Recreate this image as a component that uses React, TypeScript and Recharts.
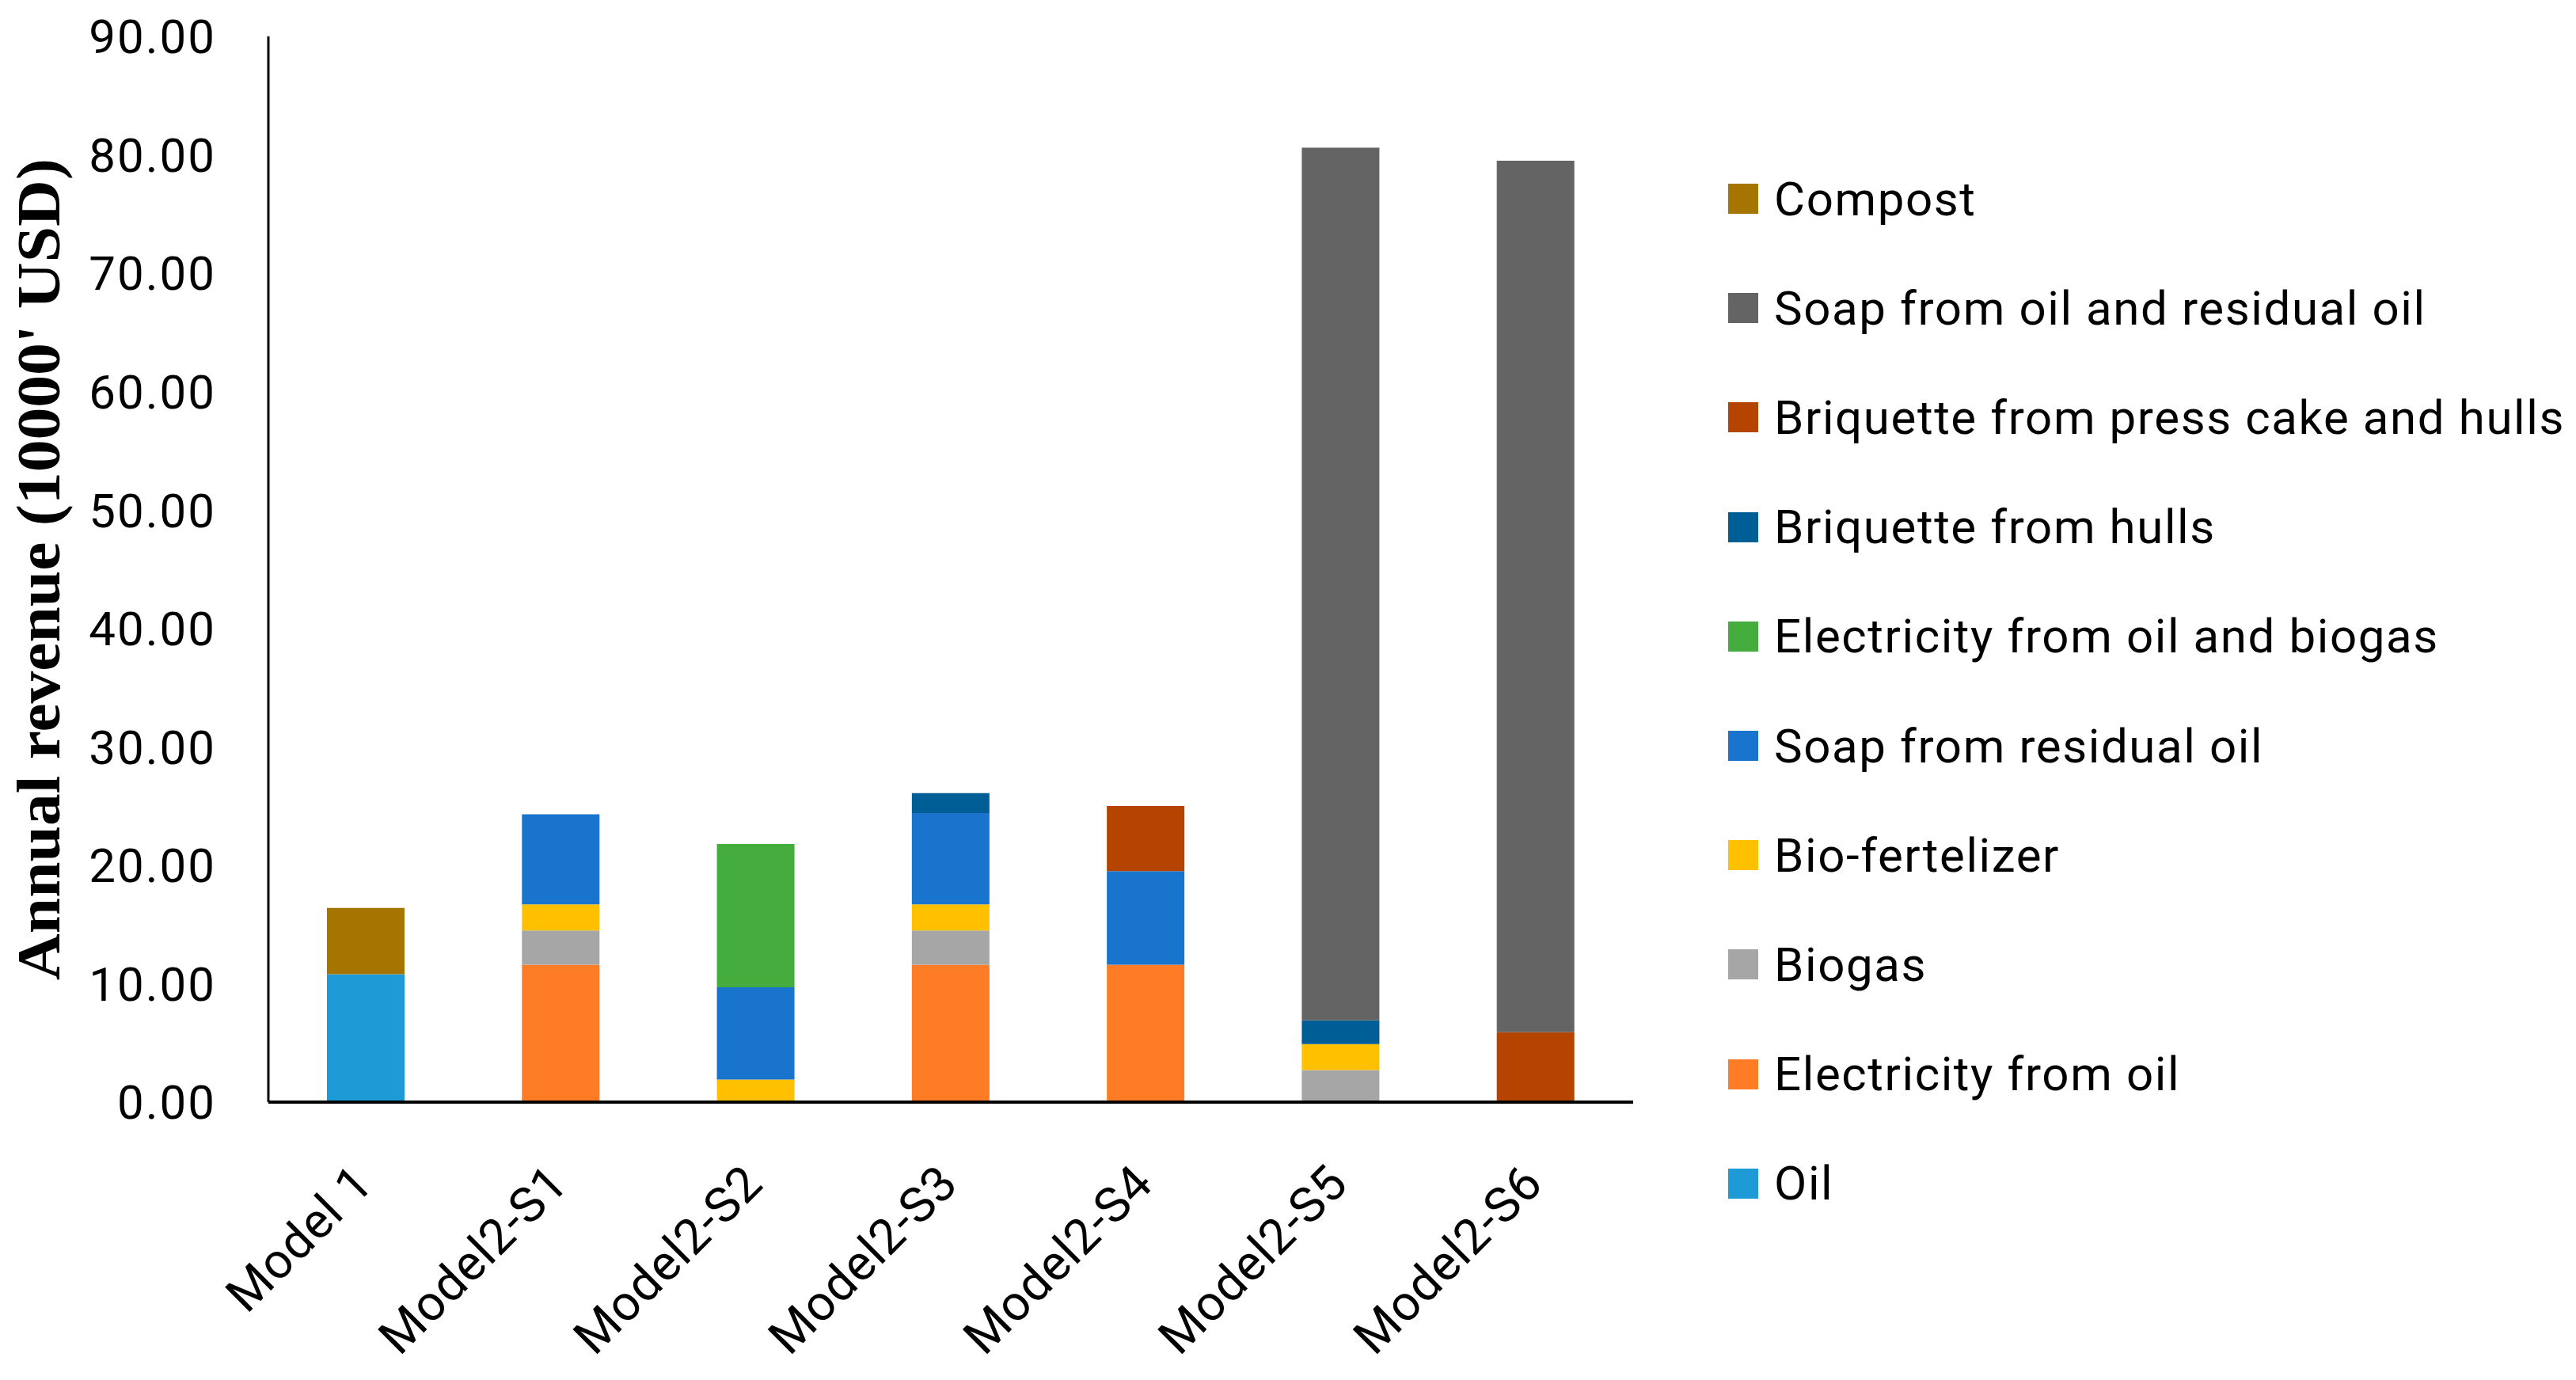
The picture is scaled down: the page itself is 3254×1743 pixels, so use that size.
import React from "react";
import { BarChart, Bar, XAxis, YAxis } from "recharts";

const categories = ["Model 1", "Model2-S1", "Model2-S2", "Model2-S3", "Model2-S4", "Model2-S5", "Model2-S6"];
const oil = [10.8, 0, 0, 0, 0, 0, 0];
const elecOil = [0, 11.6, 0, 11.6, 11.6, 0, 0];
const biogas = [0, 2.9, 0, 2.9, 0, 2.7, 0];
const bioFert = [0, 2.2, 1.9, 2.2, 0, 2.2, 0];
const soapResidual = [0, 7.6, 7.8, 7.7, 7.9, 0, 0];
const elecOilBiogas = [0, 0, 12.1, 0, 0, 0, 0];
const briqHulls = [0, 0, 0, 1.7, 0, 2.0, 0];
const briqPress = [0, 0, 0, 0, 5.5, 0, 5.9];
const soapOil = [0, 0, 0, 0, 0, 73.7, 73.6];
const compost = [5.6, 0, 0, 0, 0, 0, 0];
const yTicks = [0, 10, 20, 30, 40, 50, 60, 70, 80, 90];

// stacking order bottom -> top
const series = [
  { key: "oil", name: "Oil", values: oil, color: "#1E9BD7" },
  { key: "elecOil", name: "Electricity from oil", values: elecOil, color: "#FE7C26" },
  { key: "biogas", name: "Biogas", values: biogas, color: "#A6A6A6" },
  { key: "bioFert", name: "Bio-fertelizer", values: bioFert, color: "#FFC000" },
  { key: "soapResidual", name: "Soap from residual oil", values: soapResidual, color: "#1874CD" },
  { key: "elecOilBiogas", name: "Electricity from oil and biogas", values: elecOilBiogas, color: "#44AD3D" },
  { key: "briqHulls", name: "Briquette from hulls", values: briqHulls, color: "#005E97" },
  { key: "briqPress", name: "Briquette from press cake and hulls", values: briqPress, color: "#B54400" },
  { key: "soapOil", name: "Soap from oil and residual oil", values: soapOil, color: "#646464" },
  { key: "compost", name: "Compost", values: compost, color: "#A67400" },
];

const data = categories.map((c, i) => {
  const row: Record<string, any> = { name: c };
  series.forEach((s) => {
    row[s.key] = s.values[i];
  });
  return row;
});

const FONT = "Roboto, 'Open Sans', sans-serif";

const XTick = (props: any) => {
  const { x, y, payload } = props;
  return (
    <g transform={`translate(${x + 12},${y + 106})`}>
      <text
        x={0}
        y={0}
        textAnchor="end"
        transform="rotate(-45)"
        fontFamily={FONT}
        fontSize={62}
        letterSpacing={1}
        fill="#000"
      >
        {payload.value}
      </text>
    </g>
  );
};

const YLabel = (props: any) => {
  const vb = props.viewBox || {};
  const cy = (vb.y || 0) + (vb.height || 0) / 2;
  return (
    <text
      x={75}
      y={cy}
      transform={`rotate(-90, 75, ${cy})`}
      textAnchor="middle"
      fontFamily="'Liberation Serif', 'Times New Roman', serif"
      fontWeight="bold"
      fontSize={78}
      textLength={1038}
      lengthAdjust="spacingAndGlyphs"
      fill="#000"
    >
      Annual revenue (10000' USD)
    </text>
  );
};

export default function App() {
  const legendItems = [...series].reverse();
  return (
    <div style={{ position: "absolute", left: 0, top: 0, width: 3254, height: 1743, background: "#fff" }}>
      <BarChart
        width={3254}
        height={1743}
        data={data}
        margin={{ top: 46, right: 1191, bottom: 0, left: 0 }}
        barSize={98}
      >
        <XAxis
          dataKey="name"
          height={351}
          axisLine={{ stroke: "#000", strokeWidth: 4 }}
          tickLine={false}
          tickSize={0}
          tickMargin={0}
          interval={0}
          tick={<XTick />}
        />
        <YAxis
          width={339}
          domain={[0, 90]}
          ticks={yTicks}
          interval={0}
          axisLine={{ stroke: "#000", strokeWidth: 3 }}
          tickLine={false}
          tickSize={0}
          tickMargin={66}
          tickFormatter={(v: number) => v.toFixed(2)}
          tick={{ fontFamily: FONT, fontSize: 60, fill: "#000", letterSpacing: 2 }}
          label={<YLabel />}
        />
        {series.map((s) => (
          <Bar key={s.key} dataKey={s.key} name={s.name} stackId="a" fill={s.color} isAnimationActive={false} />
        ))}
      </BarChart>
      <div style={{ position: "absolute", left: 2183, top: 182 }}>
        {legendItems.map((s) => (
          <div key={s.key} style={{ height: 138.2, display: "flex", alignItems: "center" }}>
            <div style={{ width: 38, height: 38, background: s.color, flex: "none" }} />
            <span
              style={{
                marginLeft: 20,
                fontFamily: FONT,
                fontSize: 60,
                letterSpacing: 1.6,
                color: "#000",
                whiteSpace: "nowrap",
              }}
            >
              {s.name}
            </span>
          </div>
        ))}
      </div>
    </div>
  );
}
